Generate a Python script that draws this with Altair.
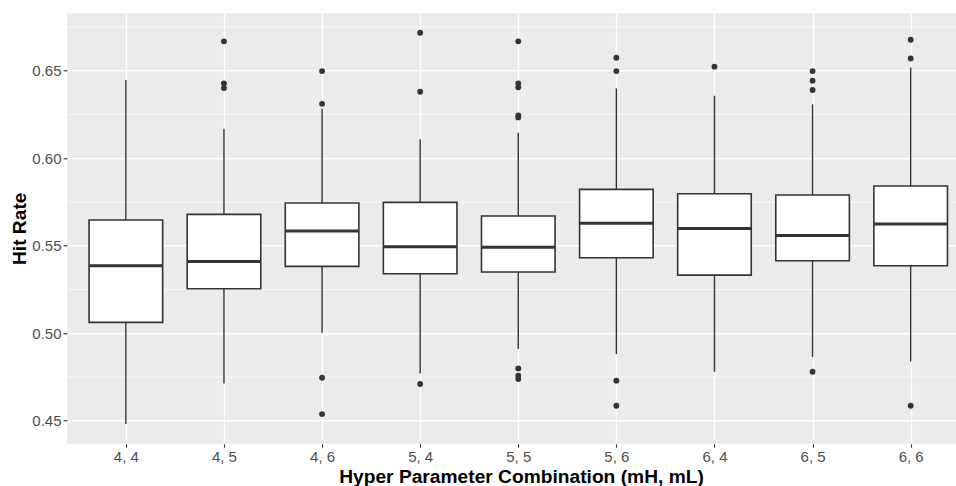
import altair as alt
import pandas as pd

# Hit-rate distribution per (mH, mL) hyper parameter combination
categories = ["4, 4", "4, 5", "4, 6", "5, 4", "5, 5", "5, 6", "6, 4", "6, 5", "6, 6"]
lower_whisker = [0.4481, 0.4713, 0.5003, 0.4770, 0.4910, 0.4881, 0.4780, 0.4864, 0.4839]
q1 = [0.5062, 0.5254, 0.5382, 0.5340, 0.5350, 0.5431, 0.5332, 0.5414, 0.5386]
median = [0.5386, 0.5410, 0.5584, 0.5494, 0.5492, 0.5628, 0.5599, 0.5559, 0.5624]
q3 = [0.5647, 0.5679, 0.5744, 0.5748, 0.5670, 0.5822, 0.5797, 0.5790, 0.5841]
upper_whisker = [0.6447, 0.6169, 0.6283, 0.6108, 0.6146, 0.6399, 0.6357, 0.6308, 0.6519]

outlier_group = [1, 1, 1,
                 2, 2, 2, 2,
                 3, 3, 3,
                 4, 4, 4, 4, 4, 4, 4, 4,
                 5, 5, 5, 5,
                 6,
                 7, 7, 7, 7,
                 8, 8, 8]
outlier_value = [0.6668, 0.6428, 0.6401,
                 0.6498, 0.6311, 0.4746, 0.4538,
                 0.6717, 0.6380, 0.4710,
                 0.6668, 0.6428, 0.6405, 0.6245, 0.6233, 0.4799, 0.4757, 0.4738,
                 0.6574, 0.6498, 0.4729, 0.4586,
                 0.6523,
                 0.6498, 0.6443, 0.6390, 0.4780,
                 0.6677, 0.6570, 0.4586]

major_y = [0.45, 0.50, 0.55, 0.60, 0.65]
minor_y = [0.475, 0.525, 0.575, 0.625, 0.675]

boxes = pd.DataFrame({
    "idx": list(range(len(categories))),
    "category": categories,
    "lo": lower_whisker,
    "q1": q1,
    "med": median,
    "q3": q3,
    "hi": upper_whisker,
})
points = pd.DataFrame({"idx": outlier_group, "value": outlier_value})
minor = pd.DataFrame({"y": minor_y})

INK = "#333333"
FONT = "Liberation Sans"
label_js = "[" + ",".join("'" + c + "'" for c in categories) + "][datum.value]"

x_scale = alt.Scale(domain=[-0.6, 8.462], nice=False, zero=False)
y_scale = alt.Scale(domain=[0.4369, 0.6828], nice=False, zero=False)

x_axis = alt.Axis(
    values=list(range(len(categories))), labelExpr=label_js,
    title="Hyper Parameter Combination (mH, mL)",
    titleX=454, titleY=38.5, titleBaseline="alphabetic", titleAlign="center",
    titleFont=FONT, titleFontSize=19.2, titleFontWeight="bold", titleColor="black",
    labelFont=FONT, labelFontSize=15, labelColor="#4D4D4D", labelPadding=2,
    tickSize=3.5, tickColor=INK, tickWidth=1.1, domain=False,
    grid=True, gridColor="white", gridWidth=1.4,
)
y_axis = alt.Axis(
    values=major_y, format=".2f", orient="left",
    title="Hit Rate", titleAngle=270, titleX=-42, titleY=215,
    titleBaseline="alphabetic", titleAlign="center",
    titleFont=FONT, titleFontSize=19.2, titleFontWeight="bold", titleColor="black",
    labelFont=FONT, labelFontSize=15, labelColor="#4D4D4D", labelPadding=2,
    tickSize=4, tickColor=INK, tickWidth=1.1, domain=False,
    grid=True, gridColor="white", gridWidth=1.4,
)

X = lambda field: alt.X(field, scale=x_scale, axis=x_axis)
Y = lambda field: alt.Y(field, scale=y_scale, axis=y_axis)

# thin white minor grid lines halfway between the major ticks
minor_grid = alt.Chart(minor).mark_rule(color="white", strokeWidth=0.7).encode(
    y=Y("y:Q"),
)

base = alt.Chart(boxes)

whisker_low = base.mark_rule(color=INK, strokeWidth=1.4).encode(
    x=X("idx:Q"), y=Y("lo:Q"), y2="q1:Q",
)
whisker_high = base.mark_rule(color=INK, strokeWidth=1.4).encode(
    x=X("idx:Q"), y=Y("q3:Q"), y2="hi:Q",
)

box = base.transform_calculate(
    left="datum.idx - 0.375", right="datum.idx + 0.375"
).mark_rect(fill="white", stroke=INK, strokeWidth=1.6).encode(
    x=X("left:Q"), x2="right:Q", y=Y("q1:Q"), y2="q3:Q",
)

median_line = base.transform_calculate(
    left="datum.idx - 0.375", right="datum.idx + 0.375"
).mark_rule(color=INK, strokeWidth=3).encode(
    x=X("left:Q"), x2="right:Q", y=Y("med:Q"),
)

outliers = alt.Chart(points).mark_circle(color=INK, opacity=1, size=34).encode(
    x=X("idx:Q"), y=Y("value:Q"),
)

chart = alt.layer(
    minor_grid, whisker_low, whisker_high, box, median_line, outliers
).properties(
    width=889,
    height=430.4,
    padding={"left": 67, "top": 13.3, "right": 0, "bottom": 42.3},
    autosize=alt.AutoSizeParams(type="none"),
    background="white",
).configure_view(
    fill="#EBEBEB", stroke=None
)

chart.save("out.html", embed_options={"renderer": "svg", "actions": False})
